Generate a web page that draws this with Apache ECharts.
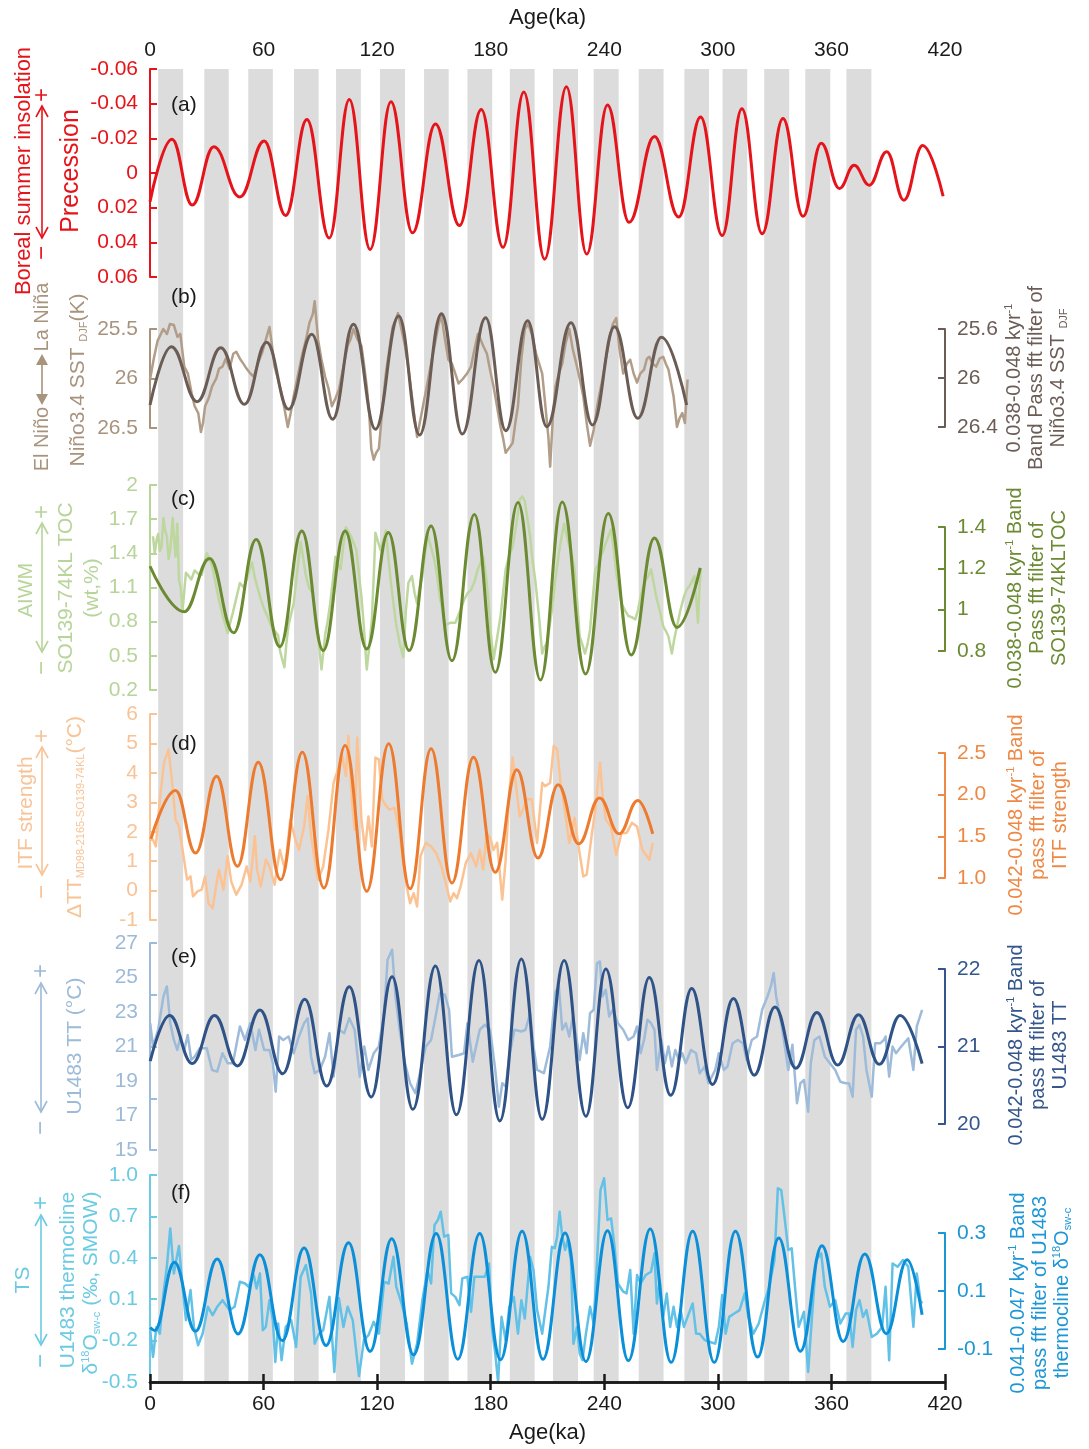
<!DOCTYPE html>
<html>
<head>
<meta charset="utf-8">
<script src="https://cdn.jsdelivr.net/npm/echarts@6/dist/echarts.min.js"></script>
<style>
html,body{margin:0;padding:0;background:#fff}
#chart{width:1089px;height:1449px}
</style>
</head>
<body>
<div id="chart"></div>
<script>
// ---------- data (age in ka, value) ----------
const ageTicks = [0, 60, 120, 180, 240, 300, 360, 420];

// precession-minimum intervals (grey bars)
const bands = [[4.3,17.5],[28.7,41.6],[51.9,64.9],[76.1,89.1],[98.3,111.4],[121.5,134.7],[144.8,157.8],[167.7,180.8],[190.1,203.2],[212.9,226.1],[234.4,247.6],[258.2,271.3],[282.3,295.3],[302.5,315.5],[324.5,337.7],[346.2,359.4],[367.9,381.1]];

// (a) precession index (turning points)
const precession = [[0,0.0165],[11.6,-0.0195],[22.3,0.0185],[33.7,-0.0152],[47.5,0.0138],[60.3,-0.0185],[71.7,0.0245],[82.9,-0.0308],[94.7,0.0375],[105.3,-0.0424],[116.3,0.0441],[127.3,-0.0411],[138.7,0.0345],[150.8,-0.0283],[163.5,0.0303],[175,-0.0366],[186.5,0.0429],[197.5,-0.0467],[208.5,0.0497],[220,-0.0498],[230.7,0.0468],[241.7,-0.0393],[253.1,0.0284],[266.5,-0.021],[279.3,0.0254],[290.9,-0.0323],[302.3,0.0361],[312.7,-0.037],[323.4,0.0351],[334.4,-0.0314],[345,0.025],[354.6,-0.0172],[364.2,0.0089],[372,-0.0044],[380,0.007],[389.2,-0.0123],[398.3,0.0157],[408.2,-0.0158],[419,0.0134]];
const precTicks = [-0.06,-0.04,-0.02,0,0.02,0.04,0.06];

// (b) Nino3.4 SST DJF
const ninoSST = [[0,26.01],[2,25.8],[4,25.62],[7,25.5],[9,25.55],[10.5,25.45],[12.6,25.46],[14.5,25.58],[16,25.55],[18.1,25.88],[20,25.95],[22,26.15],[23.6,26.28],[25.5,26.35],[26.9,26.54],[28,26.45],[29.1,26.28],[31,26.2],[32.8,26.08],[35,26.0],[36.5,25.9],[38.3,25.88],[40,25.8],[42,25.9],[44,25.75],[45.6,25.73],[47.5,25.8],[49.3,25.85],[51,25.9],[53,25.95],[54.8,25.98],[57,25.85],[59.4,25.73],[61,25.62],[63.1,25.48],[64,25.6],[65.8,25.88],[67.5,26.0],[69.5,26.15],[71,26.3],[72.8,26.49],[74.3,26.35],[75.9,26.18],[78,25.98],[80.5,25.75],[82.5,25.6],[84.2,25.44],[86,25.35],[87,25.22],[88.8,25.61],[90.5,25.8],[92.5,25.98],[94.3,26.1],[96.1,26.28],[98,26.2],[99.8,26.11],[102,25.9],[104.4,25.67],[106,25.6],[107.5,25.5],[109.5,25.6],[111.7,25.67],[113,25.85],[114.5,26.08],[115.8,26.35],[116.9,26.71],[118.2,26.82],[119.5,26.75],[120.9,26.71],[122.8,26.3],[124.6,25.95],[126.5,25.7],[128.2,25.48],[129.5,25.42],[131,25.34],[132.8,25.5],[134.7,25.67],[136.5,25.9],[138.4,26.18],[139.8,26.4],[141.1,26.59],[142.5,26.45],[143.9,26.31],[146,26.1],[148.5,25.85],[151,25.6],[152.5,25.45],[154,25.37],[155.8,25.6],[157.6,25.81],[159.5,25.85],[161.3,25.95],[163,26.05],[165,26.01],[167.5,25.95],[169.6,25.88],[171.5,25.7],[173.2,25.55],[174.5,25.6],[176,25.67],[178,25.75],[179.5,25.9],[181.5,26.08],[183.5,26.3],[185.2,26.49],[186.5,26.6],[187.9,26.75],[189.8,26.7],[191.6,26.65],[193,26.45],[194.4,26.28],[196.2,25.8],[198,25.5],[199.8,25.45],[201.7,25.55],[204,25.75],[207.2,25.95],[208.5,26.2],[209.6,26.42],[210.5,26.6],[211.4,26.89],[212.8,26.4],[214.2,26.08],[216,25.95],[217.8,25.85],[219.5,25.65],[221.5,25.5],[223.3,25.7],[225.2,25.85],[227,26.0],[228.9,26.18],[230.7,26.45],[232.5,26.68],[234.4,26.52],[236.5,26.25],[239,26.01],[240.8,25.8],[242.6,25.61],[244.5,25.45],[246.3,25.39],[248,25.7],[250,25.95],[252,25.85],[253.7,25.81],[255.5,25.95],[257.3,26.04],[259,25.95],[261,25.91],[262.5,25.8],[263.8,25.78],[265.5,25.85],[267.4,25.88],[269.2,25.8],[271.1,25.78],[272.5,25.85],[273.9,25.91],[275.3,26.05],[276.6,26.18],[278.4,26.49],[279.8,26.4],[281.2,26.35],[282.6,26.45],[284,26.01]];
const ninoFilt = [[0,26.22],[11.3,25.744],[24.9,26.193],[37.4,25.753],[49.9,26.215],[61.6,25.709],[73.2,26.255],[85.5,25.643],[96.5,26.337],[107.5,25.562],[119.1,26.418],[131.4,25.494],[142.4,26.465],[154,25.475],[165,26.457],[177.3,25.508],[188,26.43],[199.5,25.532],[209.6,26.397],[222.4,25.549],[233.8,26.383],[245.4,25.581],[257.7,26.329],[270.2,25.668],[283.5,26.22]];
const ninoTicks = [25.5, 26, 26.5];
const ninoFiltTicks = [25.6, 26, 26.4];

// (c) SO139-74KL TOC
const tocRaw = [[1.6,1.55],[2.5,1.4],[3.5,1.52],[4.3,1.57],[5.2,1.42],[6.1,1.46],[7.1,1.71],[8,1.6],[8.9,1.55],[9.8,1.35],[10.7,1.43],[12,1.71],[12.8,1.5],[13.5,1.37],[14.4,1.66],[15.3,1.17],[16.2,1.1],[17.2,0.9],[18,1.05],[19,1.23],[20.5,1.2],[21.8,1.17],[23.6,1.25],[25.5,1.22],[27.3,1.21],[28.5,1.3],[30,1.4],[31.5,1.35],[32.8,1.29],[34.5,1.15],[36.4,0.99],[38.5,0.85],[41,0.7],[42.5,0.8],[43.8,0.88],[45.5,1.0],[47.5,1.14],[49.5,1.1],[51.1,1.17],[52.5,1.25],[53.9,1.32],[55.2,1.2],[56.6,1.11],[58.5,1.0],[60.3,0.91],[62,0.85],[63.9,0.77],[65.8,0.72],[67.7,0.68],[68.6,0.55],[69.5,0.49],[71,0.4],[72,0.6],[73.2,0.77],[75.9,0.96],[77.5,1.2],[79.6,1.5],[81,1.35],[82.4,1.2],[84,1.1],[86,1.05],[87.5,0.85],[88.8,0.68],[90.6,0.38],[92.5,0.68],[93.8,0.8],[95.2,0.96],[96.5,1.15],[98,1.37],[99.5,1.3],[100.7,1.26],[102,1.45],[103.5,1.63],[106.2,1.55],[109,1.43],[110.5,1.2],[111.7,1.02],[113,0.75],[114.5,0.38],[116,0.6],[117.2,0.82],[118.2,1.2],[119.1,1.58],[120.5,1.5],[121.8,1.43],[123.2,1.5],[124.6,1.6],[126,1.35],[127.3,1.14],[128.7,0.95],[130.1,0.77],[132,0.6],[133.8,0.49],[135.2,0.9],[136.5,1.14],[138.4,1.2],[139.8,1.05],[141.1,0.96],[142.5,1.1],[143.9,1.2],[145.3,1.4],[146.6,1.57],[148.5,1.45],[150.3,1.34],[151.7,1.2],[153.1,1.02],[154.5,0.9],[155.8,0.77],[158.6,0.79],[161.3,0.79],[163.5,0.88],[165.9,0.99],[167.8,1.05],[169.6,1.08],[171.4,1.15],[173.2,1.26],[176,1.37],[177.5,1.2],[178.8,0.99],[180,0.7],[181.5,0.47],[183.3,0.65],[185.2,0.85],[186.5,1.05],[187.9,1.26],[189.8,1.38],[191.6,1.46],[193.5,1.65],[195.3,1.87],[196.7,1.9],[198,1.86],[199.4,1.7],[200.8,1.55],[202,1.35],[203.5,1.17],[205.5,0.85],[207.2,0.52],[208.5,0.58],[209.6,0.61],[211,0.75],[212.3,0.9],[214,1.15],[216,1.4],[217.5,1.55],[218.8,1.66],[220.2,1.55],[221.5,1.46],[222.9,1.38],[224.3,1.26],[225.6,1.0],[227,0.67],[228.4,0.6],[229.8,0.52],[231.1,0.6],[232.5,0.73],[233.9,1.0],[235.3,1.26],[236.6,1.3],[238,1.37],[239.4,1.42],[240.8,1.49],[242.2,1.55],[243.5,1.61],[244.9,1.45],[246.3,1.23],[247.7,1.1],[249.1,0.96],[250.9,0.9],[252.7,0.85],[254.5,0.84],[256.4,0.82],[257.8,0.9],[259.2,1.02],[260.5,1.1],[261.9,1.17],[263.3,1.2],[264.7,1.26],[266,1.15],[267.4,1.02],[269.3,0.9],[271.1,0.76],[272.5,0.72],[273.9,0.67],[275.7,0.52],[277,0.65],[278.4,0.76],[280.2,0.9],[282.1,1.02],[283.5,1.08],[284.9,1.11],[286.2,1.15],[287.6,1.2],[288.6,1.0],[289.5,0.79],[290.3,1.1],[291,1.26]];
const tocFilt = [[0,1.21],[18.1,0.99],[31.5,1.247],[44.2,0.888],[56.1,1.339],[68.6,0.821],[80.2,1.381],[91.5,0.802],[103.1,1.381],[114.5,0.81],[125.9,1.373],[136.9,0.802],[148.5,1.405],[159.5,0.753],[171.4,1.461],[182.4,0.697],[194.4,1.518],[206.3,0.66],[217.8,1.521],[230.1,0.689],[242.1,1.465],[254.2,0.781],[266.5,1.347],[278.4,0.914],[290.7,1.202]];
const tocTicks = [0.2, 0.5, 0.8, 1.1, 1.4, 1.7, 2];
const tocFiltTicks = [0.8, 1, 1.2, 1.4];

// (d) thermocline temperature gradient (ITF strength)
const itfRaw = [[0.5,1.73],[1.6,1.73],[3.1,1.5],[5.2,3.1],[7.4,4.35],[9.8,4.8],[11.7,3.66],[13.5,2.41],[15.3,2.18],[17.2,1.38],[19.6,0.37],[21.4,0.48],[22.7,-0.2],[25.1,-0.03],[27.3,0.03],[29.1,0.48],[30.9,-0.43],[33.1,-0.6],[34.6,0.03],[36.4,0.71],[38.8,0.03],[41,1.17],[42.9,0.31],[45.6,-0.14],[48.4,0.2],[51.1,0.82],[53,0.31],[55.4,1.85],[56.6,0.71],[58.5,0.14],[61.2,1.05],[63.1,0.82],[65.8,0.2],[68.6,1.38],[71.3,0.71],[74.1,2.41],[76.8,1.73],[78.7,1.38],[81.4,2.18],[83.3,3.21],[85.1,1.85],[87,1.05],[88.8,0.37],[91.5,0.82],[94.3,2.07],[97,3.66],[99.8,4.23],[101.6,4.57],[103.5,3.89],[104.8,5.26],[106.6,3.1],[108.1,2.07],[109.5,5.2],[111.7,2.41],[113.6,1.38],[115.4,2.52],[117.2,1.5],[119.1,4.52],[120.9,4.46],[122.7,3.1],[124.5,2.9],[126.4,2.75],[129.2,2.81],[131.9,1.96],[133.8,0.93],[135.6,0.14],[137.4,-0.43],[139.3,-0.09],[141.1,-0.54],[142.9,1.17],[145.7,1.62],[148.5,1.5],[151.2,1.27],[154,0.82],[156.7,0.14],[158.6,-0.37],[160.4,-0.09],[162.2,-0.26],[164.1,0.14],[166.8,0.93],[169.6,1.27],[172.3,0.82],[174.2,1.38],[176,0.71],[177.8,1.96],[179.7,1.79],[181.5,1.38],[183.4,1.62],[186.1,-0.31],[187.9,1.05],[189.8,3.32],[191.6,4.52],[193.4,3.55],[195.3,2.52],[197.1,2.75],[198.9,3.1],[201.7,3.1],[204.5,1.62],[207.2,3.66],[208.7,3.55],[211.4,3.66],[213.3,4.92],[215.1,4.8],[216.9,3.66],[218.8,2.87],[221.5,1.62],[224.3,2.47],[226.1,1.62],[228.9,0.48],[230.7,0.54],[233.5,1.96],[235.3,2.75],[237.7,4.35],[239,3.32],[240.8,2.41],[243.5,2.18],[246.3,1.21],[249.1,1.96],[251.8,1.96],[254.6,2.3],[257.3,2.18],[260.1,1.38],[263.8,1.05],[265.6,1.62]];
const itfFilt = [[0.5,1.47],[13.5,2.05],[24.1,1.3],[35.2,2.22],[46.2,1.14],[57.2,2.39],[69,0.98],[80.5,2.51],[91.9,0.88],[103.1,2.59],[114.5,0.84],[126.1,2.61],[137.4,0.87],[148.5,2.55],[159.5,0.94],[170.9,2.45],[182.4,1.07],[193.8,2.3],[205,1.24],[215.6,2.12],[226.5,1.41],[237.5,1.96],[247.8,1.53],[257.7,1.93],[265.6,1.53]];
const itfTicks = [-1, 0, 1, 2, 3, 4, 5, 6];
const itfFiltTicks = [1.0, 1.5, 2.0, 2.5];

// (e) U1483 thermocline temperature
const ttRaw = [[0.1,22.35],[1.6,21.0],[4.3,21.97],[7.1,23.9],[8.9,24.48],[10.7,22.35],[12.6,21.38],[14.4,20.8],[16.2,21.58],[18.1,20.8],[19.9,21.67],[21.8,20.22],[23.6,20.41],[26.3,20.9],[30,20.9],[32.8,19.64],[35.5,19.54],[38.3,20.61],[41,20.03],[43.8,20.03],[47.5,22.16],[50.2,21.38],[53,22.35],[55.7,20.8],[57.6,21.97],[60.3,20.8],[63.1,20.8],[64.9,20.03],[66.4,18.38],[68.2,21.58],[70.4,21.38],[73.2,21.58],[75.9,20.61],[78.7,21.58],[81.4,22.35],[83.3,22.64],[85.1,20.41],[87,19.45],[89.7,19.64],[92.5,20.41],[94.8,21.77],[97,19.25],[99.8,21.97],[102.6,21.77],[105.3,22.64],[108.1,21.97],[110.8,19.25],[113.2,21.0],[115.4,19.64],[118.2,20.61],[120.9,21.0],[123.7,22.93],[125.5,26.03],[127.9,26.61],[129.7,23.9],[131.9,21.97],[134.7,20.03],[137.4,18.87],[140.2,18.29],[143,19.64],[145.7,21.0],[148.5,21.38],[151.2,22.93],[153.1,24.09],[155.8,24.0],[158,23.13],[159.5,20.41],[163.2,20.51],[165.9,20.61],[167.7,22.35],[170.5,20.12],[174.2,21.97],[176.9,22.26],[179.7,21.97],[182.4,19.64],[184.3,17.51],[186.1,18.87],[187.9,18.67],[189.8,20.41],[192.5,21.97],[196.2,21.87],[198.4,21.97],[200.8,22.93],[202.6,21.0],[204.5,19.64],[208.1,19.45],[211.4,21.0],[214.2,24.19],[216,24.48],[217.8,21.97],[219.7,22.35],[221.5,21.58],[223.4,22.74],[225.2,21.58],[227,20.22],[228.9,21.77],[230.7,20.61],[232.5,22.93],[234.4,23.13],[236.2,25.84],[237.7,25.93],[239,23.9],[240.8,24.29],[242.6,22.74],[244.5,23.13],[247.2,22.35],[250,21.97],[252.7,21.38],[255.5,21.58],[257.3,22.16],[259.2,20.61],[261,21.38],[262.8,22.55],[264.7,22.35],[266.5,21.97],[267.8,19.64],[270.2,21.38],[272,20.03],[273.9,21.0],[275.7,19.84],[277.5,20.8],[279.4,20.22],[281.2,20.61],[283,20.03],[285.8,20.8],[288.5,20.61],[290.4,19.45],[293.1,19.84],[295,18.87],[296.8,19.25],[298.6,19.64],[300.5,20.61],[303.2,19.64],[305.1,19.84],[307.8,21.19],[310.6,21.38],[313.3,21.19],[315.2,20.22],[317.9,21.38],[320.7,21.58],[323.4,23.13],[326.2,23.9],[328,24.48],[329.5,25.26],[330.8,23.9],[333.5,22.35],[335.4,21.0],[337.2,19.64],[339.4,21.1],[341.8,17.71],[343.6,18.87],[345.5,19.06],[347.7,17.22],[349.1,20.03],[351,21.38],[353.7,21.58],[356.5,20.41],[359.2,20.03],[362,19.64],[364.7,18.96],[367.5,18.87],[369.3,18.87],[371.2,18.09],[373,21.97],[374.8,22.26],[376.7,21.58],[378.5,19.64],[381.3,18.09],[383.1,21.19],[385.9,21.19],[387.7,21.38],[388.6,21.58],[390.5,19.25],[392.3,21.0],[394.1,20.61],[396.9,21.0],[400.6,21.48],[403.3,19.64],[405.1,22.16],[407.9,23.13]];
const ttFilt = [[0.1,20.81],[10.4,21.4],[22.3,20.78],[34.1,21.4],[46.2,20.75],[58.1,21.47],[70.1,20.65],[81.8,21.61],[93.4,20.49],[105.3,21.77],[116.9,20.35],[127.9,21.9],[138.9,20.19],[150.8,22.04],[161.9,20.12],[173.8,22.11],[184.8,20.04],[196.2,22.13],[207.2,20.06],[218.8,22.11],[230.3,20.1],[240.8,22.0],[252.4,20.21],[263.8,21.89],[275.1,20.37],[286.2,21.75],[297.2,20.51],[308.2,21.62],[319.2,20.63],[330.2,21.51],[341.2,20.72],[352.3,21.44],[363.3,20.76],[374.3,21.41],[385.3,20.77],[396.3,21.4],[407.9,20.78]];
const ttLabels = [15, 17, 19, 21, 23, 25, 27];
const ttTickMarks = [15, 18, 21, 24, 27];
const ttFiltTicks = [20, 21, 22];

// (f) U1483 thermocline d18O seawater
const d18Raw = [[0.1,-0.125],[1.6,-0.318],[3.4,-0.101],[5.2,-0.15],[7.1,0.142],[8.9,0.335],[10.7,0.613],[12.6,0.287],[13.9,0.384],[15.3,0.486],[17.2,0.19],[19,-0.052],[21.4,0.166],[23.2,-0.101],[25.4,-0.234],[27.8,-0.15],[30.6,0.045],[33.1,-0.015],[35.5,0.045],[38.3,0.093],[42,0.021],[44.7,0.045],[47.5,0.226],[50.2,0.214],[52.1,0.19],[54.8,0.275],[56.3,0.178],[58.1,0.287],[59.6,-0.125],[61.2,-0.101],[63.1,0.093],[64.9,-0.052],[66.2,-0.355],[67.7,-0.076],[69.5,-0.342],[71.7,-0.101],[74.6,-0.052],[77.2,-0.246],[79.6,0.263],[82.4,0.347],[85.1,0.142],[87,-0.222],[89.3,-0.15],[91.5,-0.125],[94.8,0.117],[97.4,-0.427],[99.8,0.106],[102.2,-0.101],[104.4,0.045],[107.1,-0.052],[110.4,-0.458],[113,-0.197],[115.4,-0.161],[118.2,-0.064],[120.9,-0.15],[123.7,0.226],[126.1,0.214],[128.6,0.408],[130.1,0.19],[132.9,0.069],[135.6,-0.076],[138.4,-0.367],[141.1,-0.222],[143.9,0.093],[146.6,0.311],[148.5,0.214],[150.3,0.637],[152.1,0.674],[153.6,0.734],[155.4,0.553],[157.6,0.565],[159.1,0.142],[161.3,0.117],[163.5,0.057],[165,0.251],[167.7,0.263],[169.6,0.009],[171.4,0.263],[174.2,0.263],[176.9,0.263],[179.1,0.359],[180.6,-0.101],[182.4,-0.294],[183.9,-0.5],[185.7,-0.028],[187.9,-0.197],[189.8,0.045],[192.2,0.117],[194.4,-0.15],[196.2,0.093],[198,-0.04],[200.8,0.408],[202.6,0.311],[204.5,0.021],[207.2,-0.15],[210.5,0.19],[212.3,0.48],[213.8,0.47],[215.1,0.553],[216.4,0.734],[217.8,0.553],[219.3,0.457],[220.6,0.529],[222.4,0.384],[223.7,-0.222],[225.6,-0.101],[227,-0.294],[228.5,-0.342],[230.3,-0.15],[232.5,0.045],[234.4,-0.076],[236.2,0.384],[238,0.891],[239.9,0.976],[241.7,0.674],[243.6,0.686],[245.4,0.48],[247.2,0.214],[250,0.154],[251.8,0.142],[253.7,0.311],[255.5,-0.15],[257.3,0.275],[259.2,0.214],[261.9,0.275],[264.7,0.299],[266.5,0.432],[267.8,0.069],[269.3,0.238],[271.1,-0.028],[273,0.142],[274.8,-0.101],[276.6,0.045],[278.4,-0.101],[280.3,0.021],[282.1,-0.101],[284,-0.028],[286.7,0.069],[288.5,-0.15],[290.4,-0.15],[293.1,-0.197],[295.9,-0.21],[298.6,-0.222],[300.5,-0.101],[302.3,0.13],[304.1,-0.15],[306,-0.028],[308.7,-0.004],[311.5,0.021],[314.2,0.142],[316.1,-0.028],[318.8,-0.15],[321.6,-0.076],[324.4,0.069],[327.1,0.19],[329.9,0.384],[331.7,0.904],[333.5,0.891],[335.4,0.674],[337.2,0.457],[339,0.469],[340.9,0.166],[342.7,-0.101],[345.5,0.009],[347.7,-0.427],[350.1,0.045],[351.9,0.384],[354.6,0.432],[356.5,0.19],[359.2,0.045],[362,0.093],[364.7,-0.076],[367.5,-0.004],[369.3,-0.004],[371.2,-0.246],[373,0.021],[374.8,0.093],[376.7,-0.028],[378.5,0.021],[381.3,-0.174],[384,-0.15],[386.8,-0.101],[388.6,0.19],[390.5,-0.342],[392.3,0.359],[395,0.335],[397.8,0.384],[400.6,0.335],[403.3,-0.101],[405.1,0.287],[407,0.093],[407.9,0.069]];
const d18Filt = [[0.1,-0.026],[2.5,-0.036],[12.9,0.199],[24,-0.039],[35.5,0.21],[46.5,-0.048],[58.1,0.225],[69.9,-0.071],[81.4,0.248],[93,-0.088],[104.9,0.266],[116.3,-0.108],[127.7,0.28],[139.3,-0.12],[151.2,0.298],[162.6,-0.135],[174.2,0.298],[185.2,-0.137],[196.6,0.306],[207.6,-0.135],[219.3,0.3],[230.3,-0.143],[241.7,0.308],[252.7,-0.14],[264.3,0.314],[275.3,-0.146],[286.7,0.306],[298.1,-0.146],[309.3,0.306],[321,-0.128],[332.2,0.283],[343.6,-0.108],[355,0.256],[366.2,-0.074],[377.6,0.228],[389,-0.047],[400,0.208],[407.9,0.018]];
const d18Ticks = [-0.5, -0.2, 0.1, 0.4, 0.7, 1.0];
const d18FiltTicks = [-0.1, 0.1, 0.3];

// ---------- styling ----------
const FONT = '"Liberation Sans", Arial, Helvetica, sans-serif';
const INK = '#1a1a1a';
const RED = '#e5141a';
const B_LIGHT = '#b19d88', B_DARK = '#6b5c55', B_TXT = '#a8937d';
const C_LIGHT = '#bdd79f', C_DARK = '#6b8a32', C_TXT = '#b7d499';
const D_LIGHT = '#fbc393', D_DARK = '#ec7b2f', D_TXT = '#f8c396', D_AX = '#ee8845';
const E_LIGHT = '#9ebbd9', E_DARK = '#2f5287', E_TXT = '#9dbad8', E_AX = '#34568b';
const F_LIGHT = '#62c1e6', F_DARK = '#0b8fd8', F_TXT = '#6ccbe2', F_AX = '#1d96d6';
const GREY = '#dcdcdc';
const TICK_FONT = 21;

const GL = 150, GW = 795;
const grids = [], xAxes = [], yAxes = [], series = [], graphics = [];

function addGrid(top, height) {
  grids.push({left: GL, width: GW, top, height, containLabel: false, outerBoundsMode: 'none'});
  return grids.length - 1;
}
function hiddenX(gi) {
  xAxes.push({type: 'value', gridIndex: gi, min: 0, max: 420, show: false});
  return xAxes.length - 1;
}
function yAx(gi, side, o) {
  yAxes.push({
    type: 'value', gridIndex: gi, position: side, min: o.min, max: o.max, inverse: !!o.inverse,
    axisLine: {show: true, onZero: false, lineStyle: {color: o.color, width: 2}},
    axisTick: {show: true, inside: true, length: 7, customValues: o.ticks || o.labels,
               lineStyle: {color: o.color, width: 2}},
    axisLabel: {show: true, color: o.color, fontSize: TICK_FONT, fontFamily: FONT, margin: 12,
                customValues: o.labels, formatter: o.fmt || (v => String(v))},
    splitLine: {show: false}
  });
  return yAxes.length - 1;
}
function line(data, xi, yi, color, width, z, smooth) {
  series.push({
    type: 'line', xAxisIndex: xi, yAxisIndex: yi, data, symbol: 'none', clip: false, silent: true,
    z, smooth: smooth ? 0.42 : false, smoothMonotone: smooth ? 'x' : undefined,
    lineStyle: {color, width, join: 'round'}
  });
}
const fix1 = v => v.toFixed(1);

// background grid: shared age axes and grey bars
const g0 = addGrid(69, 1313);
xAxes.push({
  type: 'value', gridIndex: g0, position: 'top', min: 0, max: 420, z: 6,
  name: 'Age(ka)', nameLocation: 'middle', nameGap: 40,
  nameTextStyle: {fontSize: 22, color: INK, fontFamily: FONT},
  axisLine: {lineStyle: {color: INK, width: 2.5}},
  axisTick: {inside: true, length: 8, customValues: ageTicks, lineStyle: {color: INK, width: 2.5}},
  axisLabel: {fontSize: TICK_FONT, color: INK, fontFamily: FONT, margin: 8, customValues: ageTicks},
  splitLine: {show: false}
});
xAxes.push({
  type: 'value', gridIndex: g0, position: 'bottom', min: 0, max: 420, z: 6,
  name: 'Age(ka)', nameLocation: 'middle', nameGap: 40,
  nameTextStyle: {fontSize: 22, color: INK, fontFamily: FONT},
  axisLine: {onZero: false, lineStyle: {color: INK, width: 2.5}},
  axisTick: {inside: true, length: 8, customValues: ageTicks, lineStyle: {color: INK, width: 2.5}},
  axisLabel: {fontSize: TICK_FONT, color: INK, fontFamily: FONT, margin: 12, customValues: ageTicks},
  splitLine: {show: false}
});
yAxes.push({type: 'value', gridIndex: g0, min: 0, max: 1, show: false});
series.push({
  type: 'line', xAxisIndex: 0, yAxisIndex: 0, data: [], symbol: 'none', silent: true, z: 1,
  markArea: {silent: true, itemStyle: {color: GREY, borderWidth: 0},
             data: bands.map(b => [{xAxis: b[0]}, {xAxis: b[1]}])}
});

// (a)
{
  const g = addGrid(69, 208), xi = hiddenX(g);
  const yi = yAx(g, 'left', {min: -0.06, max: 0.06, inverse: true, color: RED, labels: precTicks});
  line(precession, xi, yi, RED, 3, 4, true);
}
// (b)
{
  const g = addGrid(329, 99), xi = hiddenX(g);
  const yi = yAx(g, 'left', {min: 25.5, max: 26.5, inverse: true, color: B_TXT, labels: ninoTicks});
  line(ninoSST, xi, yi, B_LIGHT, 2.5, 3, false);
  const g2 = addGrid(329, 98), xi2 = hiddenX(g2);
  const yi2 = yAx(g2, 'right', {min: 25.6, max: 26.4, inverse: true, color: B_DARK, labels: ninoFiltTicks});
  line(ninoFilt, xi2, yi2, B_DARK, 3, 4, true);
}
// (c)
{
  const g = addGrid(485, 205), xi = hiddenX(g);
  const yi = yAx(g, 'left', {min: 0.2, max: 2, color: C_TXT, labels: tocTicks});
  line(tocRaw, xi, yi, C_LIGHT, 2.5, 3, false);
  const g2 = addGrid(527, 124), xi2 = hiddenX(g2);
  const yi2 = yAx(g2, 'right', {min: 0.8, max: 1.4, color: C_DARK, labels: tocFiltTicks});
  line(tocFilt, xi2, yi2, C_DARK, 3, 4, true);
}
// (d)
{
  const g = addGrid(714, 206), xi = hiddenX(g);
  const yi = yAx(g, 'left', {min: -1, max: 6, color: D_TXT, labels: itfTicks});
  line(itfRaw, xi, yi, D_LIGHT, 2.5, 3, false);
  const g2 = addGrid(753, 125), xi2 = hiddenX(g2);
  const yi2 = yAx(g2, 'right', {min: 1.0, max: 2.5, color: D_AX, labels: itfFiltTicks, fmt: fix1});
  line(itfFilt, xi2, yi2, D_DARK, 3, 4, true);
}
// (e)
{
  const g = addGrid(943, 207), xi = hiddenX(g);
  const yi = yAx(g, 'left', {min: 15, max: 27, color: E_TXT, labels: ttLabels, ticks: ttTickMarks});
  line(ttRaw, xi, yi, E_LIGHT, 2.5, 3, false);
  const g2 = addGrid(969, 155), xi2 = hiddenX(g2);
  const yi2 = yAx(g2, 'right', {min: 20, max: 22, color: E_AX, labels: ttFiltTicks});
  line(ttFilt, xi2, yi2, E_DARK, 3, 4, true);
}
// (f)
{
  const g = addGrid(1175, 207), xi = hiddenX(g);
  const yi = yAx(g, 'left', {min: -0.5, max: 1.0, color: F_TXT, labels: d18Ticks, fmt: fix1});
  line(d18Raw, xi, yi, F_LIGHT, 2.5, 3, false);
  const g2 = addGrid(1233, 116), xi2 = hiddenX(g2);
  const yi2 = yAx(g2, 'right', {min: -0.1, max: 0.3, color: F_AX, labels: d18FiltTicks, fmt: fix1});
  line(d18Filt, xi2, yi2, F_DARK, 3, 4, true);
}

// ---------- annotations ----------
function rich(color) {
  return {
    sup: {fontSize: 11, fontFamily: FONT, fill: color, verticalAlign: 'top', lineHeight: 22},
    sub: {fontSize: 11, fontFamily: FONT, fill: color, verticalAlign: 'bottom', lineHeight: 22}
  };
}
function vtext(x, y, text, color, size, lh) {
  graphics.push({
    type: 'text', x, y, rotation: Math.PI / 2, silent: true, z: 20,
    style: {text, fill: color, fontSize: size, fontFamily: FONT, lineHeight: lh || 22,
            align: 'center', verticalAlign: 'middle', textAlign: 'center', textVerticalAlign: 'middle',
            rich: rich(color)}
  });
}
function htext(x, y, text, color, size) {
  graphics.push({
    type: 'text', x, y, silent: true, z: 20,
    style: {text, fill: color, fontSize: size, fontFamily: FONT,
            align: 'left', verticalAlign: 'middle', textAlign: 'left', textVerticalAlign: 'middle'}
  });
}
function arrow(x, yTop, yBot, color, filled, plusY, minusY) {
  graphics.push({type: 'line', silent: true, z: 20, shape: {x1: x, y1: yTop, x2: x, y2: yBot},
                 style: {stroke: color, lineWidth: 1.6}});
  if (filled) {
    graphics.push({type: 'polygon', silent: true, z: 20, shape: {points: [[x, yTop - 3], [x - 6, yTop + 8], [x + 6, yTop + 8]]}, style: {fill: color}});
    graphics.push({type: 'polygon', silent: true, z: 20, shape: {points: [[x, yBot + 3], [x - 6, yBot - 8], [x + 6, yBot - 8]]}, style: {fill: color}});
  } else {
    graphics.push({type: 'polyline', silent: true, z: 20, shape: {points: [[x - 6, yTop + 11], [x, yTop], [x + 6, yTop + 11]]}, style: {stroke: color, lineWidth: 1.6, fill: 'none'}});
    graphics.push({type: 'polyline', silent: true, z: 20, shape: {points: [[x - 6, yBot - 11], [x, yBot], [x + 6, yBot - 11]]}, style: {stroke: color, lineWidth: 1.6, fill: 'none'}});
  }
  if (plusY != null) vtext(x, plusY, '+', color, 24);
  if (minusY != null) vtext(x, minusY, '\u2212', color, 24);
}

// panel tags
[['(a)', 105], ['(b)', 297], ['(c)', 499], ['(d)', 744], ['(e)', 957], ['(f)', 1193]]
  .forEach(([t, y]) => htext(171, y, t, INK, 21));

// (a) left titles
vtext(24, 171, 'Boreal summer insolation', RED, 22);
vtext(71, 171, 'Precession', RED, 25);
arrow(42, 106, 238, RED, false, 95, 253);

// (b)
vtext(78, 380, 'Niño3.4 SST {sub|DJF}(K)', B_TXT, 21);
vtext(42, 317, 'La Niña', B_TXT, 20);
vtext(42, 439, 'El Niño', B_TXT, 20);
arrow(42, 357, 402, B_TXT, true);
vtext(1036, 378, '0.038-0.048 kyr{sup|-1}\nBand Pass fft filter of\nNiño3.4 SST {sub|DJF}', B_DARK, 20, 22);

// (c)
vtext(66, 588, 'SO139-74KL TOC', C_TXT, 21);
vtext(92, 588, '(wt,%)', C_TXT, 21);
vtext(26, 590, 'AIWM', C_TXT, 20);
arrow(42, 523, 652, C_TXT, false, 512, 668);
vtext(1037, 588, '0.038-0.048 kyr{sup|-1} Band\nPass fft filter of\nSO139-74KLTOC', C_DARK, 20, 22);

// (d)
vtext(75, 817, 'ΔTT{sub|MD98-2165-SO139-74KL}(°C)', D_TXT, 21);
vtext(26, 813, 'ITF strength', D_TXT, 21);
arrow(42, 747, 875, D_TXT, false, 736, 892);
vtext(1038, 815, '0.042-0.048 kyr{sup|-1} Band\npass fft filter of\nITF strength', D_AX, 20, 22);

// (e)
vtext(75, 1046, 'U1483 TT (°C)', E_TXT, 21);
arrow(41, 983, 1112, E_TXT, false, 971, 1128);
vtext(1038, 1045, '0.042-0.048 kyr{sup|-1} Band\npass fft filter of\nU1483 TT', E_AX, 20, 22);

// (f)
vtext(68, 1280, 'U1483 thermocline', F_TXT, 21);
vtext(91, 1283, 'δ{sup|18}O{sub|sw-c} (‰, SMOW)', F_TXT, 21);
vtext(23, 1280, 'TS', F_TXT, 21);
arrow(41, 1215, 1345, F_TXT, false, 1203, 1361);
vtext(1040, 1293, '0.041-0.047 kyr{sup|-1} Band\npass fft filter of U1483\nthermocline δ{sup|18}O{sub|sw-c}', F_AX, 20, 22);

const chart = echarts.init(document.getElementById('chart'), null, {renderer: 'canvas', width: 1089, height: 1449});
chart.setOption({
  animation: false,
  backgroundColor: '#ffffff',
  textStyle: {fontFamily: FONT},
  grid: grids,
  xAxis: xAxes,
  yAxis: yAxes,
  series,
  graphic: {elements: graphics}
});
</script>
</body>
</html>
